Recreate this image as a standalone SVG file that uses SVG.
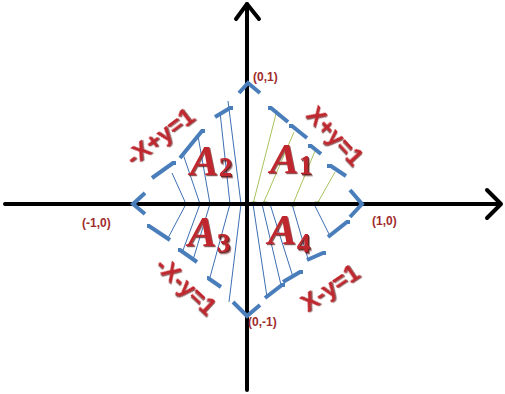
<svg xmlns="http://www.w3.org/2000/svg" width="505" height="394" viewBox="0 0 505 394">
<defs>
<filter id="sh" x="-20%" y="-20%" width="140%" height="140%">
<feDropShadow dx="1" dy="1.2" stdDeviation="0.6" flood-color="#5a0a0a" flood-opacity="0.7"/>
</filter>
</defs>
<style>
.axis{stroke:#000;stroke-width:4;fill:none;stroke-linecap:round;stroke-linejoin:round}
.seg{stroke:#4a7ebb;stroke-width:4;fill:none;stroke-linecap:butt;stroke-linejoin:miter}
.bl{stroke:#3d6fb2;stroke-width:1;fill:none}
.gl{stroke:#a9c25e;stroke-width:1;fill:none}
.mk{stroke:#8fae4a;stroke-width:1;fill:none}
.eq{font-family:"Liberation Sans",Arial,sans-serif;font-weight:bold;font-size:24px;fill:#c0282d;filter:url(#sh)}
.A{font-family:"Liberation Serif","Times New Roman",serif;font-weight:bold;font-style:italic;font-size:43px;fill:#c0282d;filter:url(#sh)}
.sub{font-family:"Liberation Serif","Times New Roman",serif;font-weight:bold;font-size:27px;fill:#c0282d;filter:url(#sh)}
.pt{font-family:"Liberation Sans",Arial,sans-serif;font-weight:bold;font-size:12px;fill:#a02c2c}
</style>
<g id="connectors">
<g id="q1-lines">
<line class="gl" x1="253" y1="204" x2="277" y2="110"/>
<line class="gl" x1="263" y1="204" x2="294" y2="132"/>
<line class="gl" x1="293" y1="204" x2="315" y2="151"/>
<line class="gl" x1="317" y1="204" x2="335" y2="172"/>
<rect class="mk" x="252" y="202" width="4" height="3"/>
<rect class="mk" x="263" y="202" width="4" height="3"/>
<rect class="mk" x="291" y="203" width="4" height="3"/>
<rect class="mk" x="315" y="202" width="4" height="3"/>
</g>
<g id="q2-lines">
<line class="bl" x1="172" y1="173" x2="186" y2="204"/>
<line class="bl" x1="183" y1="154" x2="200" y2="204"/>
<line class="bl" x1="198" y1="136" x2="210" y2="204"/>
<line class="bl" x1="220" y1="112" x2="230" y2="204"/>
<line class="bl" x1="228" y1="101" x2="241" y2="204"/>
</g>
<g id="q3-lines">
<line class="bl" x1="186" y1="204" x2="168" y2="238"/>
<line class="bl" x1="200" y1="204" x2="182" y2="253"/>
<line class="bl" x1="210" y1="204" x2="193" y2="260"/>
<line class="bl" x1="230" y1="204" x2="209" y2="281"/>
<line class="bl" x1="241" y1="204" x2="229" y2="302"/>
</g>
<g id="q4-lines">
<line class="bl" x1="253" y1="204" x2="267" y2="297"/>
<line class="bl" x1="262" y1="204" x2="281" y2="285"/>
<line class="bl" x1="270" y1="204" x2="293" y2="277"/>
<line class="bl" x1="292" y1="204" x2="308" y2="259"/>
<line class="bl" x1="314" y1="204" x2="330" y2="236"/>
</g>
</g>
<g id="axes">
<line class="axis" x1="5" y1="204" x2="500" y2="204"/>
<polyline class="axis" points="487,190 501,204 487,218"/>
<line class="axis" x1="247" y1="4" x2="247" y2="390"/>
<polyline class="axis" points="236,19 247,4 259,19"/>
</g>
<g id="diamond">
<polyline class="seg" points="239,93 248,83 260,93"/>
<polyline class="seg" points="350,190 362,204 350,217"/>
<polyline class="seg" points="145,193 133,204 145,214"/>
<polyline class="seg" points="233,302 247,316 260,305"/>
<path class="seg" d="M268 108 h3 l17 14"/>
<path class="seg" d="M289 126 h3 l15 12"/>
<path class="seg" d="M308 146 h3 l10 8"/>
<path class="seg" d="M327 166 h4 l15 10"/>
<path class="seg" d="M152 178 l21 -15 h3"/>
<path class="seg" d="M180 158 l22 -27 h3"/>
<path class="seg" d="M215 117 l15 -9 h3"/>
<path class="seg" d="M147 226 h2 l21 14"/>
<path class="seg" d="M178 250 h2 l17 12"/>
<path class="seg" d="M207 278 h1 l13 9"/>
<path class="seg" d="M265 298 l17 -13 h3"/>
<path class="seg" d="M283 282 l17 -10 h3"/>
<path class="seg" d="M307 260 l16 -7 h3"/>
<path class="seg" d="M328 237 l19 -15 h3"/>
</g>
<g id="label-eq2"><text class="eq" transform="translate(160,137) rotate(-37)" text-anchor="middle" dy="8">-X+y=1</text></g>
<g id="label-eq1"><text class="eq" transform="translate(335,136) rotate(47)" text-anchor="middle" dy="8">X+y=1</text></g>
<g id="label-eq3"><text class="eq" transform="translate(186,286) rotate(43)" text-anchor="middle" dy="8">-X-y=1</text></g>
<g id="label-eq4"><text class="eq" transform="translate(330,288) rotate(-34)" text-anchor="middle" dy="8">X-y=1</text></g>
<g id="label-A2"><text x="190" y="175" class="A">A<tspan class="sub" dy="1" font-style="normal">2</tspan></text></g>
<g id="label-A1"><text x="270" y="173" class="A">A<tspan class="sub" dy="1" font-style="normal">1</tspan></text></g>
<g id="label-A3"><text x="188" y="246" class="A">A<tspan class="sub" dy="6" font-style="normal">3</tspan></text></g>
<g id="label-A4"><text x="268" y="244" class="A">A<tspan class="sub" dy="8" font-style="normal">4</tspan></text></g>
<g id="pt-top"><text class="pt" x="253" y="81">(0,1)</text></g>
<g id="pt-left"><text class="pt" x="82" y="227">(-1,0)</text></g>
<g id="pt-right"><text class="pt" x="372" y="225">(1,0)</text></g>
<g id="pt-bottom"><text class="pt" x="248" y="326">(0,-1)</text></g>
</svg>
